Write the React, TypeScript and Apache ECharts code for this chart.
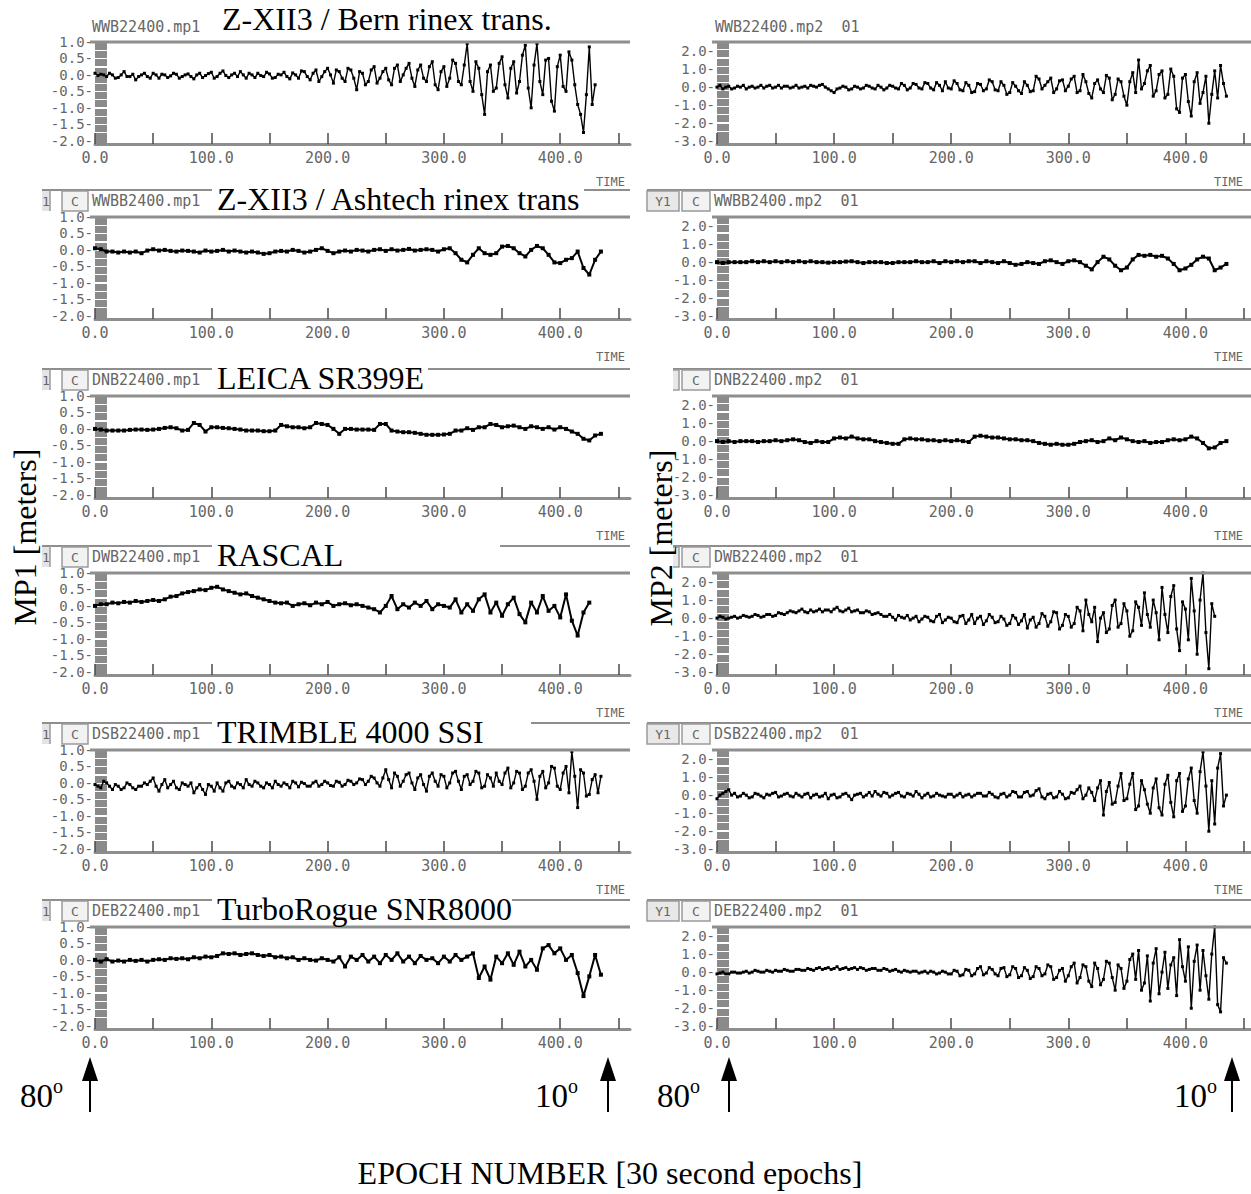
import React, { useEffect, useRef } from "react";
import * as echarts from "echarts";

// ---------- data ----------
// Each series is sampled at a fixed epoch spacing starting at epoch 0 (spacing in the *_STEPS lists).
const X_TICKS = [0, 50, 100, 150, 200, 250, 300, 350, 400, 450];
const X_LABELS = [0, 100, 200, 300, 400];
const MP1_LABELS = [1.0, 0.5, 0.0, -0.5, -1.0, -1.5, -2.0];
const MP2_LABELS = [2.0, 1.0, 0.0, -1.0, -2.0, -3.0];

const TITLES = [
  "Z-XII3 / Bern rinex trans.",
  "Z-XII3 / Ashtech rinex trans",
  "LEICA SR399E",
  "RASCAL",
  "TRIMBLE 4000 SSI",
  "TurboRogue SNR8000",
];
const MP1_FILES = ["WWB22400.mp1", "WWBB2400.mp1", "DNB22400.mp1", "DWB22400.mp1", "DSB22400.mp1", "DEB22400.mp1"];
const MP2_FILES = ["WWB22400.mp2  01", "WWBB2400.mp2  01", "DNB22400.mp2  01", "DWB22400.mp2  01", "DSB22400.mp2  01", "DEB22400.mp2  01"];

// step 2.5
const mp1Bern = [
  0.05, -0.02, 0.02, 0.0, -0.05, 0.05, 0.0, -0.1,
  -0.08, 0.0, 0.1, -0.05, -0.05, 0.02, -0.15, -0.05,
  0.0, 0.05, -0.05, -0.1, 0.05, 0.0, -0.1, 0.02,
  0.0, -0.08, -0.03, 0.05, 0.02, -0.1, -0.05, 0.0,
  0.03, -0.05, -0.12, 0.0, 0.05, -0.08, -0.02, 0.04,
  0.08, -0.1, -0.05, 0.05, 0.12, -0.02, -0.08, 0.0,
  0.05, -0.05, 0.1, 0.0, -0.1, 0.05, 0.0, -0.08,
  0.05, -0.02, -0.05, 0.08, 0.03, -0.1, -0.08, 0.02,
  0.0, 0.08, -0.05, -0.12, 0.06, 0.0, -0.1, 0.12,
  0.1, -0.05, -0.15, 0.05, 0.15, -0.2, -0.05, 0.1,
  0.2, 0.0, -0.25, 0.15, 0.1, -0.1, -0.2, 0.2,
  0.15, -0.1, -0.45, 0.1, 0.05, -0.3, -0.2, 0.15,
  0.25, -0.25, -0.1, 0.1, 0.2, -0.15, -0.3, 0.2,
  0.3, -0.2, 0.0, 0.2, 0.35, -0.1, -0.35, 0.15,
  0.3, -0.1, -0.2, 0.25, 0.4, -0.3, -0.45, 0.1,
  0.25, -0.35, -0.1, 0.45, 0.35, -0.2, -0.3, 0.3,
  0.95, -0.2, -0.5, 0.4, 0.2, -0.6, -1.2, 0.1,
  0.3, -0.5, -0.4, 0.35, 0.55, -0.3, -0.7, 0.2,
  0.4, -0.55, -0.2, 0.6, 0.9, -0.4, -1.0, 0.3,
  0.95, -0.2, -0.6, 0.45, 0.5, -0.8, -1.1, 0.25,
  0.6, -0.35, -0.5, 0.7, 0.45, -0.3, -0.9, -1.2,
  -1.75, -0.6, 0.85, -0.9, -0.3,
];
// step 5
const mp1Ashtech = [
  0.05, 0.02, -0.05, -0.05, -0.08, -0.05, -0.08, -0.05, -0.1, -0.02,
  0.02, -0.02, 0.0, -0.03, -0.05, -0.02, -0.03, -0.05, -0.08, -0.02,
  -0.05, -0.03, 0.0, -0.05, -0.02, -0.05, -0.08, -0.05, -0.08, -0.12,
  -0.1, -0.05, -0.03, -0.05, 0.0, -0.03, -0.08, -0.05, 0.0, 0.05,
  -0.03, -0.1, -0.05, -0.02, -0.05, 0.0, -0.02, -0.05, 0.0, 0.02,
  -0.03, 0.02, -0.02, 0.0, 0.03, -0.02, 0.0, 0.02, 0.0, -0.05,
  0.02, 0.05, -0.1, -0.3, -0.38, -0.15, 0.05, -0.1, -0.15, -0.1,
  0.1, 0.12, 0.05, -0.1, -0.2, 0.0, 0.12, 0.05, -0.15, -0.38,
  -0.4, -0.3, -0.25, -0.05, -0.55, -0.75, -0.3, -0.05,
];
// step 5
const mp1Leica = [
  0.0, -0.02, -0.05, -0.05, -0.05, -0.05, -0.03, -0.02, -0.02, -0.03,
  -0.02, 0.0, 0.03, 0.05, 0.02, -0.05, -0.03, 0.18, 0.12, -0.08,
  0.05, 0.05, 0.03, 0.02, 0.0, -0.02, -0.05, -0.05, -0.05, -0.07,
  -0.07, -0.05, 0.12, 0.08, 0.05, 0.05, 0.02, 0.05, 0.18, 0.15,
  0.12, 0.0, -0.15, 0.0, 0.0, -0.02, -0.02, -0.02, -0.03, 0.15,
  0.15, -0.05, -0.08, -0.1, -0.1, -0.12, -0.15, -0.18, -0.18, -0.18,
  -0.17, -0.15, -0.05, -0.05, 0.02, -0.03, 0.05, 0.05, 0.15, 0.12,
  0.05, 0.08, 0.1, 0.05, 0.0, 0.08, 0.05, 0.0, 0.05, -0.02,
  0.05, 0.0, -0.08, -0.15, -0.3, -0.35, -0.2, -0.15,
];
// step 5
const mp1Rascal = [
  0.0, 0.05, 0.05, 0.1, 0.08, 0.12, 0.1, 0.15, 0.12, 0.15,
  0.18, 0.15, 0.2, 0.28, 0.3, 0.38, 0.42, 0.45, 0.5, 0.48,
  0.55, 0.58, 0.5, 0.45, 0.4, 0.35, 0.38, 0.3, 0.25, 0.2,
  0.15, 0.1, 0.08, 0.1, 0.0, 0.05, 0.08, 0.02, 0.1, 0.05,
  0.12, 0.0, 0.05, 0.08, 0.02, 0.05, 0.0, -0.05, -0.1, -0.2,
  0.0, 0.3, -0.1, 0.05, -0.05, 0.1, 0.0, 0.15, -0.1, 0.05,
  0.0, -0.05, 0.2, -0.2, 0.05, -0.15, 0.2, 0.35, -0.2, 0.1,
  -0.3, 0.05, 0.25, -0.25, -0.5, 0.1, -0.2, 0.3, -0.15, 0.0,
  -0.35, 0.35, -0.45, -0.9, -0.2, 0.1,
];
// step 2.5
const mp1Trimble = [
  -0.05, -0.1, -0.15, 0.05, 0.0, -0.1, -0.2, -0.05,
  -0.1, -0.2, -0.15, 0.0, -0.05, -0.15, -0.2, -0.1,
  -0.1, 0.0, -0.05, 0.05, 0.15, -0.1, -0.25, -0.05,
  0.1, -0.15, -0.05, 0.05, -0.15, -0.2, 0.0, -0.05,
  -0.1, 0.0, -0.3, -0.15, -0.05, -0.2, -0.35, -0.05,
  -0.1, -0.25, 0.0, -0.15, -0.25, 0.0, 0.05, -0.1,
  -0.15, 0.0, -0.05, -0.15, 0.1, -0.05, -0.1, 0.05,
  0.0, -0.1, -0.15, 0.0, -0.05, -0.15, 0.05, -0.05,
  -0.1, 0.0, -0.05, -0.15, 0.05, 0.0, -0.12, 0.02,
  -0.02, -0.1, -0.1, 0.0, 0.05, -0.1, -0.05, 0.05,
  0.0, -0.08, -0.1, 0.05, 0.02, -0.1, -0.05, 0.08,
  0.05, -0.05, 0.0, 0.12, 0.1, -0.05, 0.05, 0.2,
  0.15, 0.0, -0.1, 0.15, 0.4, 0.1, -0.15, 0.3,
  0.2, -0.1, 0.05, 0.25, 0.3, 0.0, -0.2, 0.15,
  0.25, -0.05, -0.25, 0.2, 0.3, 0.05, -0.1, 0.25,
  0.2, -0.15, 0.0, 0.3, 0.35, 0.05, -0.2, 0.2,
  0.25, -0.05, 0.05, 0.35, 0.3, -0.15, -0.1, 0.25,
  0.15, -0.1, 0.3, 0.05, -0.05, 0.3, 0.45, -0.15,
  0.0, 0.35, 0.3, -0.2, -0.1, 0.3, 0.4, 0.05,
  -0.5, 0.2, 0.35, -0.15, 0.0, 0.5, 0.45, -0.1,
  -0.2, 0.3, 0.5, -0.3, 0.95, 0.2, -0.75, 0.4,
  0.3, -0.4, -0.35, 0.1, 0.25, -0.3, 0.2,
];
// step 5
const mp1Turbo = [
  0.0, -0.05, 0.02, -0.05, -0.02, -0.05, 0.0, -0.03, 0.0, -0.05,
  0.0, 0.02, 0.0, 0.05, 0.03, 0.05, 0.02, 0.08, 0.05, 0.1,
  0.08, 0.12, 0.2, 0.18, 0.2, 0.15, 0.18, 0.2, 0.15, 0.12,
  0.15, 0.08, 0.1, 0.05, 0.08, 0.0, 0.05, 0.0, -0.02, 0.05,
  0.0, -0.05, 0.08, -0.2, 0.1, 0.0, 0.15, -0.05, 0.1, -0.1,
  0.15, 0.0, 0.2, -0.05, 0.1, -0.1, 0.12, 0.0, 0.05, -0.1,
  0.1, -0.05, 0.15, 0.0, 0.1, 0.2, -0.55, -0.2, -0.6, 0.1,
  -0.1, 0.2, -0.15, 0.25, -0.2, 0.0, -0.3, 0.35, 0.45, 0.2,
  0.35, 0.0, 0.15, -0.4, -1.1, -0.5, 0.15, -0.45,
];

// step 2.5
const mp2Bern = [
  0.0, 0.1, -0.1, 0.0, 0.05, -0.1, -0.05, 0.05,
  0.0, 0.1, -0.1, 0.0, 0.05, -0.05, 0.0, 0.1,
  -0.05, 0.05, 0.1, -0.05, 0.0, 0.1, -0.05, 0.05,
  0.05, -0.05, 0.0, 0.1, -0.05, 0.0, 0.05, -0.05,
  0.1, 0.05, 0.0, 0.1, 0.15, 0.0, -0.1, -0.2,
  -0.3, -0.1, -0.05, 0.05, 0.0, -0.15, -0.1, 0.05,
  0.0, -0.1, -0.05, 0.1, 0.05, -0.05, -0.1, 0.1,
  0.0, -0.15, -0.05, 0.1, 0.05, -0.05, -0.1, 0.2,
  0.1, -0.15, -0.05, 0.2, 0.15, -0.05, -0.1, 0.25,
  0.2, -0.05, -0.15, 0.25, 0.1, -0.2, 0.3, -0.05,
  -0.1, 0.35, 0.2, -0.15, -0.2, 0.25, 0.1, -0.3,
  -0.25, 0.2, 0.15, -0.2, -0.1, 0.4, 0.3, -0.15,
  -0.2, 0.3, 0.1, -0.4, -0.3, 0.25, 0.05, -0.2,
  -0.35, 0.3, 0.1, -0.25, -0.2, 0.6, 0.45, -0.1,
  0.1, 0.3, 0.5, -0.3, -0.1, 0.35, 0.4, -0.2,
  0.05, 0.45, 0.6, -0.3, -0.2, 0.7, 0.3, -0.35,
  -0.6, 0.2, 0.4, -0.1, -0.3, 0.65, 0.5, -0.7,
  -0.4, 0.45, 0.3, -0.5, -1.0, 0.3, 0.8, -0.3,
  1.5, -0.1, 0.2, 0.9, 1.2, -0.5, -0.2, 0.7,
  0.9, -0.6, -0.4, 1.0, 0.6, -1.2, -1.4, 0.5,
  0.7, -0.8, -1.6, 0.3, 0.8, -0.9, -0.3, 0.6,
  -2.0, -0.4, 0.9, -0.6, 1.2, 0.2, -0.5,
];
// step 5
const mp2Ashtech = [
  0.0, -0.05, 0.0, 0.0, 0.0, 0.0, 0.05, 0.0, 0.05, 0.0,
  0.05, 0.0, 0.05, 0.0, 0.05, 0.0, 0.05, 0.0, 0.0, -0.03,
  0.0, 0.0, 0.03, 0.05, 0.0, -0.05, 0.0, 0.0, 0.0, -0.05,
  -0.05, 0.0, 0.0, 0.0, 0.05, 0.0, 0.0, 0.05, -0.05, 0.05,
  0.0, 0.05, 0.0, 0.05, 0.05, -0.05, 0.05, 0.0, -0.05, 0.05,
  -0.05, -0.15, -0.1, 0.0, -0.05, -0.1, 0.05, 0.1, 0.0, -0.1,
  0.05, 0.1, 0.0, -0.2, -0.4, 0.0, 0.3, 0.15, -0.2, -0.45,
  -0.3, 0.15, 0.4, 0.35, 0.4, 0.3, 0.35, 0.2, -0.1, -0.45,
  -0.35, -0.15, 0.15, 0.3, 0.2, -0.45, -0.3, -0.1,
];
// step 5
const mp2Leica = [
  0.0, -0.05, 0.0, -0.05, 0.0, 0.0, 0.0, -0.05, 0.0, 0.0,
  0.05, 0.0, 0.05, 0.1, 0.05, -0.05, -0.1, 0.0, -0.05, -0.05,
  0.15, 0.2, 0.15, 0.25, 0.15, 0.1, 0.1, 0.0, -0.05, -0.1,
  -0.15, -0.15, 0.1, 0.15, 0.1, 0.1, 0.05, 0.05, 0.0, 0.05,
  0.0, 0.05, 0.0, -0.05, 0.25, 0.3, 0.25, 0.2, 0.2, 0.15,
  0.1, 0.1, 0.05, 0.05, 0.0, -0.1, -0.15, -0.2, -0.15, -0.2,
  -0.2, -0.15, -0.05, 0.0, 0.05, -0.05, 0.0, 0.15, 0.05, 0.2,
  0.1, 0.0, -0.05, 0.0, -0.1, -0.05, -0.05, 0.05, 0.1, 0.05,
  0.1, 0.25, 0.15, -0.1, -0.4, -0.35, -0.1, 0.0,
];
// step 2.5
const mp2Rascal = [
  0.0, 0.1, 0.05, -0.05, 0.0, 0.05, 0.1, 0.0,
  0.05, 0.15, 0.1, 0.05, 0.1, 0.2, 0.15, 0.05,
  0.1, 0.2, 0.2, 0.1, 0.15, 0.3, 0.25, 0.2,
  0.3, 0.4, 0.35, 0.3, 0.4, 0.5, 0.35, 0.3,
  0.45, 0.35, 0.4, 0.5, 0.35, 0.45, 0.45, 0.35,
  0.5, 0.6, 0.4, 0.35, 0.45, 0.55, 0.35, 0.4,
  0.45, 0.3, 0.3, 0.4, 0.35, 0.2, 0.25, 0.3,
  0.2, 0.1, 0.1, 0.2, 0.05, -0.1, 0.15, 0.05,
  0.0, 0.15, -0.1, 0.0, 0.1, -0.2, -0.05, 0.1,
  0.05, -0.15, -0.2, 0.1, 0.2, -0.25, -0.1, 0.05,
  0.0, -0.2, -0.25, 0.1, 0.15, -0.3, -0.1, 0.2,
  -0.3, 0.0, 0.1, -0.35, -0.15, 0.2, 0.05, -0.25,
  -0.2, 0.1, -0.05, -0.4, -0.3, 0.15, 0.0, -0.35,
  -0.15, 0.2, -0.55, -0.1, 0.05, -0.5, -0.3, 0.25,
  0.1, -0.45, -0.2, 0.35, 0.3, -0.6, -0.4, 0.2,
  0.1, -0.5, -0.3, 0.6, 0.4, -0.7, 1.0, 0.2,
  -0.2, 0.6, -1.3, 0.0, 0.3, -0.8, -0.6, 0.7,
  1.0, -0.5, -0.3, 0.8, 0.4, -1.0, -0.7, 0.9,
  0.6, -0.4, 1.4, 0.2, -0.5, 1.0, 0.3, -1.2,
  1.7, 0.2, -0.8, 1.2, 1.8, -0.6, -1.8, 0.9,
  0.5, -1.2, 2.2, 0.4, -2.0, 1.0, 2.5, -0.8,
  -2.8, 0.8, 0.1,
];
// step 2.5
const mp2Trimble = [
  -0.2, 0.0, 0.1, 0.2, 0.3, 0.0, 0.1, -0.1,
  -0.05, 0.1, 0.0, -0.15, -0.1, 0.1, 0.05, -0.05,
  -0.15, 0.05, 0.0, 0.1, 0.15, -0.1, -0.05, 0.05,
  0.1, -0.05, -0.1, 0.1, 0.0, -0.1, 0.05, 0.1,
  -0.15, 0.0, 0.05, -0.1, -0.05, 0.1, -0.2, 0.0,
  0.05, -0.15, -0.1, 0.05, 0.1, -0.05, -0.25, 0.0,
  0.05, 0.1, -0.1, 0.0, 0.15, -0.05, 0.2, 0.05,
  -0.05, 0.15, 0.1, -0.1, 0.0, 0.1, 0.15, -0.05,
  -0.1, 0.1, 0.05, -0.05, 0.2, 0.05, -0.15, 0.0,
  0.1, -0.1, -0.05, 0.1, 0.0, -0.05, -0.1, 0.05,
  0.05, -0.1, 0.0, 0.1, -0.1, 0.0, 0.05, -0.1,
  0.0, 0.1, 0.1, -0.05, -0.05, 0.15, 0.05, -0.1,
  -0.15, 0.05, 0.1, -0.1, 0.0, 0.2, 0.15, -0.1,
  -0.1, 0.15, 0.2, -0.05, 0.0, 0.25, 0.35, -0.1,
  -0.2, 0.05, 0.1, -0.15, -0.1, 0.2, 0.05, -0.2,
  -0.15, 0.15, 0.1, 0.3, 0.5, -0.2, 0.0, 0.4,
  0.15, -0.3, 0.4, 0.8, -1.1, 0.2, 0.7, -0.5,
  -0.4, 0.5, 1.2, -0.3, -0.2, 0.6, 1.2, -0.8,
  -0.6, 0.8, 0.3, -0.5, -1.0, 0.4, 0.9, -0.7,
  -1.1, 0.6, 1.1, -0.4, -1.2, 0.8, 1.2, -0.9,
  -0.6, 0.9, 1.5, -0.3, -1.0, 1.3, 2.4, 0.5,
  -2.0, 0.8, -1.6, 1.5, 2.3, -0.6, 0.0,
];
// step 2.5
const mp2Turbo = [
  -0.1, -0.05, 0.0, -0.1, -0.1, 0.0, 0.0, -0.05,
  -0.05, 0.0, 0.05, -0.05, 0.0, 0.1, 0.05, 0.0,
  0.0, 0.1, 0.05, 0.0, 0.1, 0.05, 0.05, 0.15,
  0.1, 0.05, 0.05, 0.15, 0.15, 0.1, 0.1, 0.2,
  0.15, 0.1, 0.2, 0.25, 0.15, 0.2, 0.25, 0.15,
  0.2, 0.3, 0.15, 0.2, 0.25, 0.15, 0.2, 0.25,
  0.15, 0.25, 0.2, 0.1, 0.15, 0.2, 0.2, 0.1,
  0.1, 0.2, 0.15, 0.05, 0.1, 0.15, 0.05, 0.0,
  0.1, 0.05, 0.0, 0.05, 0.05, -0.05, 0.0, 0.05,
  -0.05, 0.05, 0.0, -0.1, -0.05, 0.05, 0.0, -0.1,
  -0.1, 0.1, 0.05, -0.2, -0.15, 0.15, 0.1, -0.2,
  -0.1, 0.2, 0.3, -0.15, -0.05, 0.25, 0.15, -0.1,
  -0.2, 0.2, 0.25, -0.25, -0.15, 0.3, 0.2, -0.3,
  -0.2, 0.25, 0.1, -0.35, -0.25, 0.3, 0.2, -0.2,
  -0.1, 0.4, 0.3, -0.4, -0.3, 0.1, 0.2, -0.5,
  -0.2, 0.3, 0.5, -0.6, -0.3, 0.4, 0.3, -0.5,
  -0.8, 0.5, 0.2, -0.7, -0.4, 0.6, 0.5, -0.3,
  -1.0, 0.4, 0.2, -0.9, -0.5, 0.7, 1.0, -0.4,
  1.2, -1.0, -0.6, 0.9, -1.6, 0.5, 1.3, -1.2,
  0.0, 1.1, -0.9, 0.4, 0.8, -1.3, 1.8, 0.3,
  -0.5, 1.4, -2.0, 0.6, 1.5, -1.0, 1.2, -0.2,
  -1.5, 1.0, 2.5, -1.8, -2.2, 0.8, 0.5,
];

const MP1_SERIES = [mp1Bern, mp1Ashtech, mp1Leica, mp1Rascal, mp1Trimble, mp1Turbo];
const MP2_SERIES = [mp2Bern, mp2Ashtech, mp2Leica, mp2Rascal, mp2Trimble, mp2Turbo];
const MP1_STEPS = [2.5, 5, 5, 5, 2.5, 5];
const MP2_STEPS = [2.5, 5, 5, 2.5, 2.5, 2.5];

// ---------- layout / style ----------
const W = 1251;
const H = 1194;
const ROW_TOPS = [42, 217, 396, 573, 750, 927];
const PLOT_H = 102;
const COL_LEFT = [95, 717];
const COL_WIDTH = [535, 534];
const COL_XMAX = [460, 456];
const TIME_GAP = [-5, -8];
const Y_RANGE = [
  { min: -2.1, max: 1.0 },
  { min: -3.15, max: 2.5 },
];
// positions of the grey hatched blocks along the y axis
const BAR_MP1 = [0.875, 0.625, 0.375, 0.125, -0.125, -0.375, -0.625, -0.875, -1.125, -1.375, -1.625, -1.875, -2.02];
const BAR_MP2 = [2.3, 1.85, 1.4, 0.95, 0.5, 0.05, -0.4, -0.85, -1.3, -1.75, -2.2, -2.65, -3.02];
const TITLE_BOX_RIGHT = [0, 584, 428, 500, 531, 512];

const MONO = '"DejaVu Sans Mono", monospace';
const SERIF = '"Liberation Serif", "Times New Roman", serif';
const GREY_TXT = "#666666";
const FRAME = "#8e8e8e";

function buildOption() {
  const grid: any[] = [];
  const xAxis: any[] = [];
  const yAxis: any[] = [];
  const series: any[] = [];
  const graphic: any[] = [];

  for (let c = 0; c < 2; c++) {
    for (let r = 0; r < 6; r++) {
      const idx = grid.length;
      const top = ROW_TOPS[r];
      grid.push({ left: COL_LEFT[c], top, width: COL_WIDTH[c], height: PLOT_H });
      xAxis.push({
        gridIndex: idx,
        type: "value",
        min: 0,
        max: COL_XMAX[c],
        name: r < 5 ? "TIME" : "",
        nameLocation: "end",
        nameGap: TIME_GAP[c],
        nameTextStyle: {
          fontFamily: MONO,
          fontSize: 12,
          color: GREY_TXT,
          align: "right",
          verticalAlign: "top",
          padding: [32, 0, 0, 0],
        },
        axisLine: { onZero: false, lineStyle: { color: FRAME, width: 3 } },
        axisTick: {
          inside: true,
          length: 11,
          customValues: X_TICKS,
          lineStyle: { color: "#4a4a4a", width: 1.5 },
        },
        axisLabel: {
          customValues: X_LABELS,
          formatter: (v: number) => v.toFixed(1),
          margin: 6,
          fontFamily: MONO,
          fontSize: 15,
          color: GREY_TXT,
        },
        splitLine: { show: false },
      });
      yAxis.push({
        gridIndex: idx,
        type: "value",
        min: Y_RANGE[c].min,
        max: Y_RANGE[c].max,
        axisLine: { show: false, onZero: false },
        axisTick: {
          inside: true,
          length: 12,
          customValues: c === 0 ? BAR_MP1 : BAR_MP2,
          lineStyle: { color: "#8a8a8a", width: 7 },
        },
        axisLabel: {
          customValues: c === 0 ? MP1_LABELS : MP2_LABELS,
          formatter: (v: number) => v.toFixed(1) + "-",
          margin: 2,
          fontFamily: MONO,
          fontSize: 14,
          color: GREY_TXT,
        },
        splitLine: { show: false },
      });
      const vals = c === 0 ? MP1_SERIES[r] : MP2_SERIES[r];
      const step = c === 0 ? MP1_STEPS[r] : MP2_STEPS[r];
      const dense = step < 5;
      series.push({
        type: "line",
        xAxisIndex: idx,
        yAxisIndex: idx,
        data: vals.map((v, k) => [k * step, v]),
        symbol: "rect",
        symbolSize: dense ? 3 : 4,
        showSymbol: true,
        lineStyle: { color: "#000", width: dense ? 1.4 : 2 },
        itemStyle: { color: "#000" },
        silent: true,
        clip: true,
        z: 4,
      });

      // top frame line of the plot
      graphic.push({
        type: "line",
        z: 5,
        shape: { x1: COL_LEFT[c] - 5, y1: top, x2: COL_LEFT[c] + COL_WIDTH[c], y2: top },
        style: { stroke: FRAME, lineWidth: 3 },
      });

      // header strip
      const fileTxt = c === 0 ? MP1_FILES[r] : MP2_FILES[r];
      if (r === 0) {
        graphic.push({
          type: "text",
          z: 6,
          x: c === 0 ? 92 : 715,
          y: top - 15,
          style: { text: fileTxt, font: `15px ${MONO}`, fill: GREY_TXT, verticalAlign: "middle" },
        });
      } else {
        const lineStart = c === 0 ? 42 : 647;
        graphic.push({
          type: "line",
          z: 5,
          shape: { x1: lineStart, y1: top - 27, x2: COL_LEFT[c] + COL_WIDTH[c], y2: top - 27 },
          style: { stroke: FRAME, lineWidth: 2 },
        });
        if (c === 0) {
          graphic.push({
            type: "rect",
            z: 6,
            shape: { x: 42, y: top - 26, width: 8, height: 20 },
            style: { fill: "#e4e4e4" },
          });
          graphic.push({
            type: "text",
            z: 7,
            x: 42,
            y: top - 16,
            style: { text: "1", font: `13px ${MONO}`, fill: GREY_TXT, verticalAlign: "middle" },
          });
          graphic.push({
            type: "line",
            z: 7,
            shape: { x1: 50, y1: top - 27, x2: 50, y2: top - 6 },
            style: { stroke: "#9a9a9a", lineWidth: 1.5 },
          });
          graphic.push({
            type: "rect",
            z: 6,
            shape: { x: 62, y: top - 26, width: 26, height: 20 },
            style: { fill: "#f2f2f2", stroke: "#9a9a9a", lineWidth: 1.5 },
          });
          graphic.push({
            type: "text",
            z: 7,
            x: 75,
            y: top - 16,
            style: { text: "C", font: `13px ${MONO}`, fill: GREY_TXT, align: "center", verticalAlign: "middle" },
          });
        } else {
          graphic.push({
            type: "rect",
            z: 6,
            shape: { x: 647, y: top - 26, width: 32, height: 20 },
            style: { fill: "#e8e8e8", stroke: "#9a9a9a", lineWidth: 1.5 },
          });
          graphic.push({
            type: "text",
            z: 7,
            x: 663,
            y: top - 16,
            style: { text: "Y1", font: `13px ${MONO}`, fill: GREY_TXT, align: "center", verticalAlign: "middle" },
          });
          graphic.push({
            type: "rect",
            z: 6,
            shape: { x: 682, y: top - 26, width: 28, height: 20 },
            style: { fill: "#f2f2f2", stroke: "#9a9a9a", lineWidth: 1.5 },
          });
          graphic.push({
            type: "text",
            z: 7,
            x: 696,
            y: top - 16,
            style: { text: "C", font: `13px ${MONO}`, fill: GREY_TXT, align: "center", verticalAlign: "middle" },
          });
        }
        graphic.push({
          type: "text",
          z: 7,
          x: c === 0 ? 92 : 714,
          y: top - 16,
          style: { text: fileTxt, font: `15px ${MONO}`, fill: GREY_TXT, verticalAlign: "middle" },
        });
      }

      // receiver titles (left column only)
      if (c === 0) {
        if (r > 0) {
          graphic.push({
            type: "rect",
            z: 8,
            shape: { x: 212, y: top - 34, width: TITLE_BOX_RIGHT[r] - 212, height: 28 },
            style: { fill: "#fff" },
          });
        }
        graphic.push({
          type: "text",
          z: 9,
          x: r === 0 ? 222 : 217,
          y: r === 0 ? 19 : top - 18,
          style: { text: TITLES[r], font: `32px ${SERIF}`, fill: "#000", verticalAlign: "middle" },
        });
      }
    }
  }

  // paste-over behind the right axis title
  graphic.push({
    type: "rect",
    z: 8,
    shape: { x: 638, y: 360, width: 35, height: 275 },
    style: { fill: "#fff" },
  });

  // axis titles
  graphic.push({
    type: "text",
    z: 9,
    x: 25,
    y: 537,
    rotation: Math.PI / 2,
    style: { text: "MP1 [meters]", font: `32px ${SERIF}`, fill: "#000", align: "center", verticalAlign: "middle" },
  });
  graphic.push({
    type: "text",
    z: 9,
    x: 661,
    y: 538,
    rotation: Math.PI / 2,
    style: { text: "MP2 [meters]", font: `32px ${SERIF}`, fill: "#000", align: "center", verticalAlign: "middle" },
  });
  graphic.push({
    type: "text",
    z: 9,
    x: 610,
    y: 1173,
    style: {
      text: "EPOCH NUMBER [30 second epochs]",
      font: `32px ${SERIF}`,
      fill: "#000",
      align: "center",
      verticalAlign: "middle",
    },
  });

  // elevation markers
  const marks = [
    { label: "80", tx: 20, ax: 90 },
    { label: "10", tx: 535, ax: 608 },
    { label: "80", tx: 657, ax: 729 },
    { label: "10", tx: 1174, ax: 1232 },
  ];
  for (const m of marks) {
    graphic.push({
      type: "text",
      z: 9,
      x: m.tx,
      y: 1096,
      style: { text: m.label, font: `33px ${SERIF}`, fill: "#000", verticalAlign: "middle" },
    });
    graphic.push({
      type: "text",
      z: 9,
      x: m.tx + 33,
      y: 1086,
      style: { text: "o", font: `20px ${SERIF}`, fill: "#000", verticalAlign: "middle" },
    });
    graphic.push({
      type: "polygon",
      z: 9,
      shape: { points: [[m.ax, 1057], [m.ax - 8, 1081], [m.ax + 8, 1081]] },
      style: { fill: "#000" },
    });
    graphic.push({
      type: "line",
      z: 9,
      shape: { x1: m.ax, y1: 1079, x2: m.ax, y2: 1112 },
      style: { stroke: "#000", lineWidth: 2 },
    });
  }

  return {
    animation: false,
    backgroundColor: "#fff",
    grid,
    xAxis,
    yAxis,
    series,
    graphic,
  };
}

export default function App() {
  const ref = useRef<HTMLDivElement>(null);
  useEffect(() => {
    if (!ref.current) return;
    const chart = echarts.init(ref.current, undefined, { renderer: "svg" });
    chart.setOption(buildOption() as any);
    return () => chart.dispose();
  }, []);
  return (
    <div
      ref={ref}
      style={{ position: "absolute", left: 0, top: 0, width: W, height: H, background: "#fff" }}
    />
  );
}
